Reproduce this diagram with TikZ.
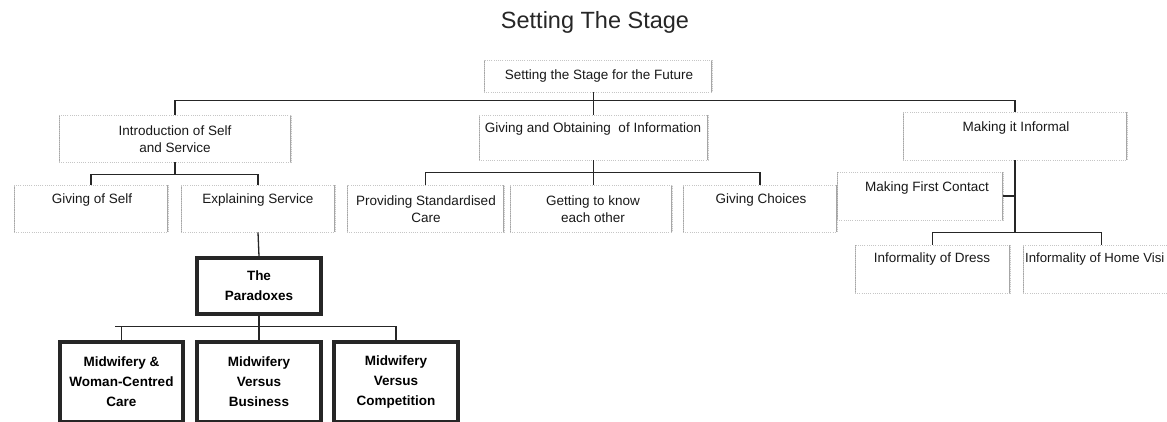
\documentclass[tikz,border=0pt]{standalone}
\usepackage{fontspec}
\setmainfont{Liberation Sans}
\begin{document}
\begin{tikzpicture}[x=1pt,y=-1pt,
  conn/.style={draw=black!85, line width=1.3pt},
  lbox/.style={draw=gray!45, dash pattern=on 1pt off 1.2pt, line width=0.9pt, inner sep=0pt,
    path picture={\draw[gray!70, solid, line width=2.2pt]
      (path picture bounding box.north west) -- (path picture bounding box.south west)
      (path picture bounding box.north east) -- (path picture bounding box.south east);}},
  bbox/.style={draw=black!85, line width=3.4pt, fill=white, inner sep=0pt, align=center,
    font=\fontsize{13.5}{20}\selectfont\bfseries},
  txt/.style={font=\fontsize{13.5}{17.5}\selectfont, align=center, inner sep=0pt, text=black!90},
]
\useasboundingbox (0,0) rectangle (1167,421);
\clip (0,0) rectangle (1167,421);
\fill[white] (0,0) rectangle (1167,421);

% title
\node[font=\fontsize{23.5}{28}\selectfont, anchor=base, text=black!85, inner sep=0pt] (title) at (595,28) {Setting The Stage};

% light boxes
\node[lbox, minimum width=228, minimum height=32] (top) at (598,76) {};
\node[lbox, minimum width=232, minimum height=47] (intro) at (175,138.5) {};
\node[lbox, minimum width=229, minimum height=45] (gio) at (593.5,137.5) {};
\node[lbox, minimum width=224, minimum height=48] (inf) at (1015,136) {};

\node[lbox, minimum width=154, minimum height=47] (gos) at (91,208.5) {};
\node[lbox, minimum width=154, minimum height=47] (exs) at (258,208.5) {};
\node[lbox, minimum width=157, minimum height=47] (prov) at (425.5,208.5) {};
\node[lbox, minimum width=162, minimum height=47] (gtk) at (591,208.5) {};
\node[lbox, minimum width=154, minimum height=47] (gc) at (760,208.5) {};
\node[lbox, minimum width=166, minimum height=48] (mfc) at (920,196) {};
\node[lbox, minimum width=155, minimum height=48] (dress) at (932.5,269) {};
\node[lbox, minimum width=157, minimum height=48] (home) at (1101.5,269) {};

% texts
\node[txt] (topt) at (599,76) {Setting the Stage for the Future};
\node[txt] (introt) at (175,139) {Introduction of Self\\and Service};
\node[txt] (giot) at (593,129) {Giving and Obtaining\ \ of Information};
\node[txt] (inft) at (1016,128) {Making it Informal};
\node[txt] (gost) at (92,200) {Giving of Self};
\node[txt] (exst) at (258,200) {Explaining Service};
\node[txt] (provt) at (426,209) {Providing Standardised\\Care};
\node[txt] (gtkt) at (593,209) {Getting to know\\each other};
\node[txt] (gct) at (761,200) {Giving Choices};
\node[txt] (mfct) at (927,188) {Making First Contact};
\node[txt] (dresst) at (932,259) {Informality of Dress};
\node[txt, anchor=west, font=\fontsize{13.2}{17}\selectfont] (homet) at (1025,259) {Informality of Home Visi};

% bold boxes
\node[bbox, minimum width=124, minimum height=56] (par) at (259,286) {The\\Paradoxes};
\node[bbox, minimum width=123, minimum height=80] (m1) at (121.5,382) {Midwifery \&\\Woman-Centred\\Care};
\node[bbox, minimum width=124, minimum height=80] (m2) at (259,382) {Midwifery\\Versus\\Business};
\node[bbox, minimum width=124, minimum height=80] (m3) at (396,382) {Midwifery\\Versus\\Competition};

% connectors
\draw[conn] (top.south -| gio.north) -- (gio.north);
\draw[conn] (intro.north) -- ++(0,-14) -| (inf.north);

\draw[conn] (intro.south) -- ++(0,13);
\draw[conn] (gos.north) -- ++(0,-10) -| (exs.north);

\draw[conn] (gio.south) -- ++(0,13);
\draw[conn] (prov.north) -- ++(0,-12) -| (gc.north);
\draw[conn] (gio.south) ++(0,13) -- (gio.south |- gtk.north);

\draw[conn] (inf.south) -- ++(0,73);
\draw[conn] (mfc.east) -- (mfc.east -| inf.south);
\draw[conn] (dress.north) -- ++(0,-12) -| (home.north);

\draw[conn] (exs.south) -- (par.north);
\draw[conn] (par.south) -- ++(0,14);
\draw[conn] (m1.north) -- ++(0,-14) -| (m3.north);
\draw[conn] (m1.north) ++(0,-14) -- ++(-7,0);
\draw[conn] (par.south) ++(0,14) -- (m2.north);
\end{tikzpicture}
\end{document}
